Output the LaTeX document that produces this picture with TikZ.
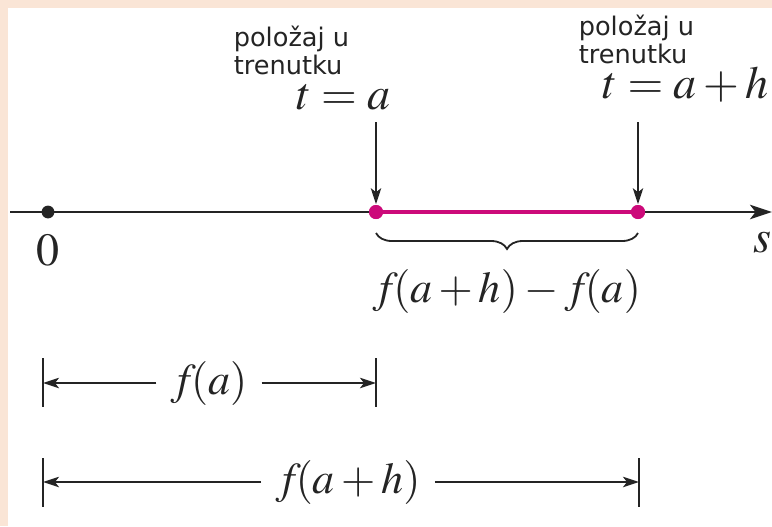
\documentclass[tikz,border=0pt]{standalone}
\usepackage{mathptmx}
\usepackage{fontspec}
\newfontfamily\labelfont{DejaVu Sans}
\usetikzlibrary{arrows.meta,decorations.pathreplacing,positioning}
\begin{document}
\begin{tikzpicture}[x=0.25pt, y=-0.25pt, axis/.style={line width=0.55pt, lnInk, -{Stealth[length=5.5pt, width=3.6pt, inset=1.4pt]}}, seg/.style={line width=1.1pt, lnMag}, pointer/.style={line width=0.4pt, lnInk, -{Stealth[length=4pt, width=2.6pt, inset=1pt]}}, dimarrow/.style={line width=0.45pt, lnInk, -{Stealth[length=4pt, width=2.6pt, inset=1pt]}}, tickmark/.style={line width=0.5pt, lnInk}, dot/.style={circle, inner sep=0pt, minimum size=3.2pt}, mlabel/.style={font=\fontsize{11.5}{13}\selectfont, text=lnInk, inner sep=0pt}, note/.style={font=\labelfont\fontsize{6.4}{7}\selectfont, text=lnInk, align=left, inner sep=0pt}, dimlabel/.style={font=\fontsize{11}{13}\selectfont, text=lnInk, inner sep=3.4pt}]
\definecolor{lnInk}{rgb}{0.14,0.14,0.14}
\definecolor{lnMag}{rgb}{0.80,0.04,0.48}
\definecolor{lnPeach}{rgb}{0.98,0.90,0.84}
\fill[lnPeach] (0,0) rectangle (772,526);
\fill[white] (8,8) rectangle (772,526);
\useasboundingbox (0,0) rectangle (772,526);
\coordinate (axl) at (10,212);
\coordinate (axr) at (772,212);
\draw[axis] (axl) -- (axr);
\node[dot, fill=lnInk] (zero) at (48,212) {};
\node[dot, fill=lnMag, minimum size=3.5pt] (pa) at (376,212) {};
\node[dot, fill=lnMag, minimum size=3.5pt] (pah) at (638,212) {};
\draw[seg] (pa.center) -- (pah.center);
\node[dot, fill=lnMag, minimum size=3.5pt] at (pa) {};
\node[dot, fill=lnMag, minimum size=3.5pt] at (pah) {};
\node[mlabel] (lzero) at (48,250) {$0$};
\node[mlabel] (ls) at (762,243) {$s$};
\node[mlabel, anchor=base east] (ta) at (391,109) {$t=a$};
\node[note, anchor=south west] (posa) at (233,76) {položaj u\\trenutku};
\node[mlabel, anchor=base east] (tah) at (769,98) {$t=a+h$};
\node[note, anchor=south west] (posah) at (578,65) {položaj u\\trenutku};
\coordinate (sa) at (376,122);
\coordinate (sah) at (638,122);
\draw[pointer] (sa) -- (pa.north);
\draw[pointer] (sah) -- (pah.north);
\draw[line width=0.45pt, lnInk, decorate, decoration={brace, mirror, amplitude=4pt}] (376,233) -- (638,233);
\node[mlabel, font=\fontsize{11}{13}\selectfont] (diff) at (507,291) {$f\!(a+h)-f\!(a)$};
\coordinate (d1l) at (43,383);
\coordinate (d1r) at (376,383);
\draw[tickmark] (43,358) -- (43,407);
\draw[tickmark] (376,358) -- (376,407);
\node[dimlabel] (fa) at (209,383) {$f\!(a)$};
\draw[dimarrow] (fa.west) -- (d1l);
\draw[dimarrow] (fa.east) -- (d1r);
\coordinate (d2l) at (43,482);
\coordinate (d2r) at (639,482);
\draw[tickmark] (43,458) -- (43,507);
\draw[tickmark] (639,458) -- (639,507);
\node[dimlabel] (fah) at (348,482) {$f\!(a+h)$};
\draw[dimarrow] (fah.west) -- (d2l);
\draw[dimarrow] (fah.east) -- (d2r);
\end{tikzpicture}
\end{document}
